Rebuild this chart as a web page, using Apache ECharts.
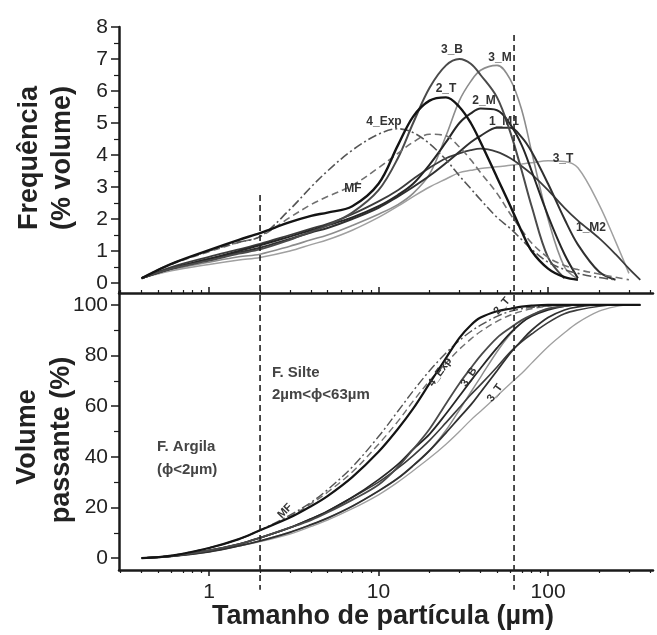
<!DOCTYPE html>
<html><head><meta charset="utf-8">
<script src="https://cdn.jsdelivr.net/npm/echarts@6/dist/echarts.min.js"></script>
<style>html,body{margin:0;padding:0;background:#fff}#c{width:657px;height:635px}</style>
</head><body><div id="c"></div>
<script>
// particle size (µm)
const sizes = [0.4,0.6,1,1.5,2,3,4,5,7,10,13,16,20,25,30,35,40,50,60,70,80,100,125,150,200,250,300,350];
const seriesNames = ['3_T','3_M','1_M2','1_M1','2_M','3_B','MF','4_Exp','2_T'];
// frequency (% volume)
const freq_1M1 = [0.15,0.45,0.75,0.95,1.1,1.38,1.58,1.72,2.0,2.35,2.7,3.0,3.35,3.75,4.1,4.4,4.6,4.85,4.85,4.55,4.1,3.1,2.0,1.2,0.35,0.1,null,null];
const freq_1M2 = [0.15,0.5,0.82,1.05,1.22,1.5,1.7,1.85,2.15,2.55,2.9,3.25,3.6,3.9,4.05,4.15,4.2,4.1,3.9,3.65,3.4,2.9,2.35,1.95,1.4,0.9,0.45,0.1];
const freq_2M = [0.15,0.45,0.75,1.0,1.18,1.45,1.65,1.8,2.05,2.4,2.75,3.1,3.7,4.4,5.0,5.3,5.45,5.4,4.95,4.3,3.5,2.1,0.9,0.15,null,null,null,null];
const freq_2T = [0.15,0.6,1.03,1.35,1.56,1.9,2.1,2.2,2.4,3.1,4.3,5.2,5.7,5.8,5.5,5.0,4.4,3.3,2.4,1.6,1.0,0.45,0.18,0.1,null,null,null,null];
const freq_3B = [0.15,0.45,0.7,0.92,1.05,1.35,1.6,1.8,2.2,2.9,3.9,5.0,6.1,6.8,7.0,6.85,6.5,5.8,4.7,3.5,2.4,0.8,0.15,null,null,null,null,null];
const freq_3M = [0.15,0.42,0.65,0.82,0.9,1.15,1.35,1.5,1.8,2.15,2.45,2.8,3.4,4.6,5.7,6.3,6.65,6.8,6.35,5.4,4.1,2.0,0.5,0.12,null,null,null,null];
const freq_3T = [0.15,0.38,0.58,0.72,0.8,1.0,1.2,1.35,1.65,2.05,2.4,2.7,3.0,3.25,3.45,3.52,3.58,3.63,3.68,3.72,3.76,3.82,3.8,3.6,2.45,1.3,0.3,null];
const freq_4Exp = [0.15,0.6,1.0,1.28,1.45,2.3,3.0,3.5,4.15,4.65,4.82,4.7,4.35,3.85,3.35,2.95,2.6,2.05,1.7,1.35,1.05,0.65,0.42,0.3,0.17,0.1,null,null];
const freq_MF = [0.15,0.58,0.98,1.27,1.45,2.05,2.45,2.7,3.05,3.6,4.05,4.4,4.65,4.6,4.25,3.85,3.45,2.8,2.15,1.65,1.25,0.8,0.55,0.42,0.28,0.18,0.1,null];
// cumulative passing volume (%)
const cum_1M1 = [0,0.7,2.5,4.8,6.8,10.2,13.2,15.8,20.5,26.5,31.5,36.5,42.5,49.5,55.5,60.5,65.5,74,81,86,90,95,98,99.2,100,100,100,100];
const cum_1M2 = [0,0.8,3,5.5,8,12,15.5,18.5,24,30,35.5,40.5,46.5,53.5,59.5,64.5,68.5,75.5,81.5,85.5,88.5,93,96.5,98,99.5,100,100,100];
const cum_2M = [0,0.8,3,5.5,8,12,15.5,18.5,24,31,37,43,49,57,64,70,75,83,89,93,95.5,98,99.5,100,100,100,100,100];
const cum_2T = [0,1,4,7.5,11,16,20.5,24.5,32,42,51,59,69,79,87,92,95,97.5,98.5,99.3,99.7,100,100,100,100,100,100,100];
const cum_3B = [0,0.8,3,5.5,8,12,15,18,23,29,36,43,51,61,69,75,80,87,91,94,96,98.5,99.5,100,100,100,100,100];
const cum_3M = [0,0.7,2.5,4.8,6.8,10.2,13.2,15.8,20.5,26.5,31.5,36.5,42.5,50.5,58.5,65.5,71.5,81.5,88.5,93,96,98.5,99.7,100,100,100,100,100];
const cum_3T = [0,0.7,2.5,4.8,6.5,9.5,12.5,15,19.5,25,30,34.5,39.5,45,50,54.5,58,64,69,73,77,83.5,89,93,97.5,99.3,100,100];
const cum_4Exp = [0,1,4,7.5,11,17,22,27,36,48,58,66,74,81,86,89.5,92,95.5,97.5,98.5,99,99.6,100,100,100,100,100,100];
const cum_MF = [0,1,4,7.5,11,16.5,21.5,26,34,45,54,62,70,77,82.5,86.5,89.5,93.5,96,97.5,98.5,99.5,100,100,100,100,100,100];
// tick labels
const xTickLabels = [1,10,100];
const xMinorTicks = [0.3,0.4,0.5,0.6,0.7,0.8,0.9,2,3,4,5,6,7,8,9,20,30,40,50,60,70,80,90,200,300,400];
const freqTicks = [0,1,2,3,4,5,6,7,8];
const freqMinor = [0.5,1.5,2.5,3.5,4.5,5.5,6.5,7.5];
const cumTicks = [0,20,40,60,80,100];
const cumMinor = [10,30,50,70,90];
const boundaries = [2,63];

const freqData = {'1_M1':freq_1M1,'1_M2':freq_1M2,'2_M':freq_2M,'2_T':freq_2T,'3_B':freq_3B,'3_M':freq_3M,'3_T':freq_3T,'4_Exp':freq_4Exp,'MF':freq_MF};
const cumData = {'1_M1':cum_1M1,'1_M2':cum_1M2,'2_M':cum_2M,'2_T':cum_2T,'3_B':cum_3B,'3_M':cum_3M,'3_T':cum_3T,'4_Exp':cum_4Exp,'MF':cum_MF};
const styles = {
  '2_T':{color:'#141414',width:2.4,type:'solid'},
  '2_M':{color:'#262626',width:2,type:'solid'},
  '3_B':{color:'#4a4a4a',width:2,type:'solid'},
  '1_M1':{color:'#303030',width:2,type:'solid'},
  '1_M2':{color:'#3c3c3c',width:1.8,type:'solid'},
  '3_M':{color:'#8c8c8c',width:1.6,type:'solid'},
  '3_T':{color:'#a0a0a0',width:1.5,type:'solid'},
  '4_Exp':{color:'#555',width:1.6,type:[9,3,2,3]},
  'MF':{color:'#707070',width:1.6,type:[7,4]}
};

const L = Math.log10;
const xMin = L(0.2944), xMax = L(416);
const FONT = 'Liberation Sans, Arial, sans-serif';
const AX = '#1a1a1a';
const chart = echarts.init(document.getElementById('c'), null, {renderer:'canvas'});

function xAxisMajor(grid, inside, labels){
  return {gridIndex:grid, type:'value', position:'bottom', min:xMin, max:xMax,
    axisLine:{onZero:false, lineStyle:{color:AX, width:2.5}},
    axisTick:{inside:inside, length:6, customValues:xTickLabels.map(L), lineStyle:{color:AX,width:1.5}},
    axisLabel:labels ? {customValues:xTickLabels.map(L), formatter:v=>String(Math.round(Math.pow(10,v))), fontSize:21, color:'#222', fontFamily:FONT, margin:12} : {show:false},
    splitLine:{show:false}};
}
function xAxisMinor(grid, inside){
  return {gridIndex:grid, type:'value', position:'bottom', min:xMin, max:xMax,
    axisLine:{show:false, onZero:false},
    axisTick:{inside:inside, length:3, customValues:xMinorTicks.map(L), lineStyle:{color:AX,width:1.2}},
    axisLabel:{show:false}, splitLine:{show:false}};
}
function yAxisMajor(grid, min, max, ticks){
  return {gridIndex:grid, type:'value', position:'left', min:min, max:max,
    axisLine:{onZero:false, lineStyle:{color:AX, width:2.5}},
    axisTick:{length:8, customValues:ticks, lineStyle:{color:AX,width:1.5}},
    axisLabel:{customValues:ticks, fontSize:21, color:'#222', fontFamily:FONT, margin:11},
    splitLine:{show:false}};
}
function yAxisMinor(grid, min, max, ticks){
  return {gridIndex:grid, type:'value', position:'left', min:min, max:max,
    axisLine:{show:false, onZero:false},
    axisTick:{length:5, customValues:ticks, lineStyle:{color:AX,width:1.2}},
    axisLabel:{show:false}, splitLine:{show:false}};
}

const series = [];
seriesNames.forEach(n => {
  const st = styles[n];
  series.push({name:n, type:'line', xAxisIndex:0, yAxisIndex:0, smooth:0.35, symbol:'none',
    lineStyle:{color:st.color, width:st.width, type:st.type},
    data:sizes.map((s,i)=>[L(s), freqData[n][i]==null?'-':freqData[n][i]])});
  series.push({name:n+' cum', type:'line', xAxisIndex:2, yAxisIndex:2, smooth:0.35, symbol:'none',
    lineStyle:{color:st.color, width:st.width*0.9, type:st.type},
    data:sizes.map((s,i)=>[L(s), cumData[n][i]])});
});

chart.setOption({
  animation:false,
  backgroundColor:'#fff',
  grid:[{left:119, top:27, width:534, height:266}, {left:119, top:292, width:534, height:278}],
  xAxis:[xAxisMajor(0,true,false), xAxisMinor(0,true), xAxisMajor(1,false,true), xAxisMinor(1,false)],
  yAxis:[yAxisMajor(0,-0.3125,8,freqTicks), yAxisMinor(0,-0.3125,8,freqMinor),
         yAxisMajor(1,-4.7,105.1,cumTicks), yAxisMinor(1,-4.7,105.1,cumMinor)],
  series:series
});

// annotations
const g = [];
const px = v => chart.convertToPixel({xAxisIndex:0}, L(v));
const pyTop = v => chart.convertToPixel({yAxisIndex:0}, v);
const pyBot = v => chart.convertToPixel({yAxisIndex:2}, v);
const dashTops = [2.75, 7.75];
boundaries.forEach((b,i) => {
  const x = px(b);
  g.push({type:'line', shape:{x1:x, y1:pyTop(dashTops[i]), x2:x, y2:pyBot(-12.5)}, style:{stroke:'#222', lineWidth:1.6, lineDash:[6,4]}, z:10});
});
function txt(t, x, y, size, opts){
  opts = opts || {};
  g.push({type:'text', x:x, y:y, rotation:opts.rot||0, z:20,
    style:{text:t, fontSize:size, fontWeight:opts.weight||'bold', fontFamily:FONT, fill:opts.color||'#333',
      align:opts.align||'center', verticalAlign:'middle', lineHeight:opts.lh}});
}
// axis titles
txt('Frequência', 30, 158, 27, {rot:Math.PI/2, color:'#222'});
txt('(% volume)', 63, 158, 27, {rot:Math.PI/2, color:'#222'});
txt('Volume', 28, 437, 27, {rot:Math.PI/2, color:'#222'});
txt('passante (%)', 62, 440, 27, {rot:Math.PI/2, color:'#222'});
txt('Tamanho de partícula (µm)', 383, 617, 27, {color:'#222'});
// region annotations
txt('F. Argila', 157, 447, 15, {align:'left', color:'#444'});
txt('(ϕ<2µm)', 157, 470, 15, {align:'left', color:'#444'});
txt('F. Silte', 272, 373, 15, {align:'left', color:'#444'});
txt('2µm<ϕ<63µm', 272, 395, 15, {align:'left', color:'#444'});
// curve labels (frequency)
[['3_B',452,50],['3_M',500,58],['2_T',446,89],['2_M',484,101],['4_Exp',384,122],['1_M1',504,122],['3_T',563,159],['MF',353,189],['1_M2',591,228]]
  .forEach(a => txt(a[0], a[1], a[2], 12, {color:'#333'}));
// curve labels (cumulative)
[['2_T',502,306,0.85],['4_Exp',440,372,0.95],['3_B',469,377,1.0],['3_T',495,393,0.95],['MF',285,511,0.8]]
  .forEach(a => txt(a[0], a[1], a[2], 11, {rot:a[3], color:'#333'}));
chart.setOption({graphic:g});
</script></body></html>
